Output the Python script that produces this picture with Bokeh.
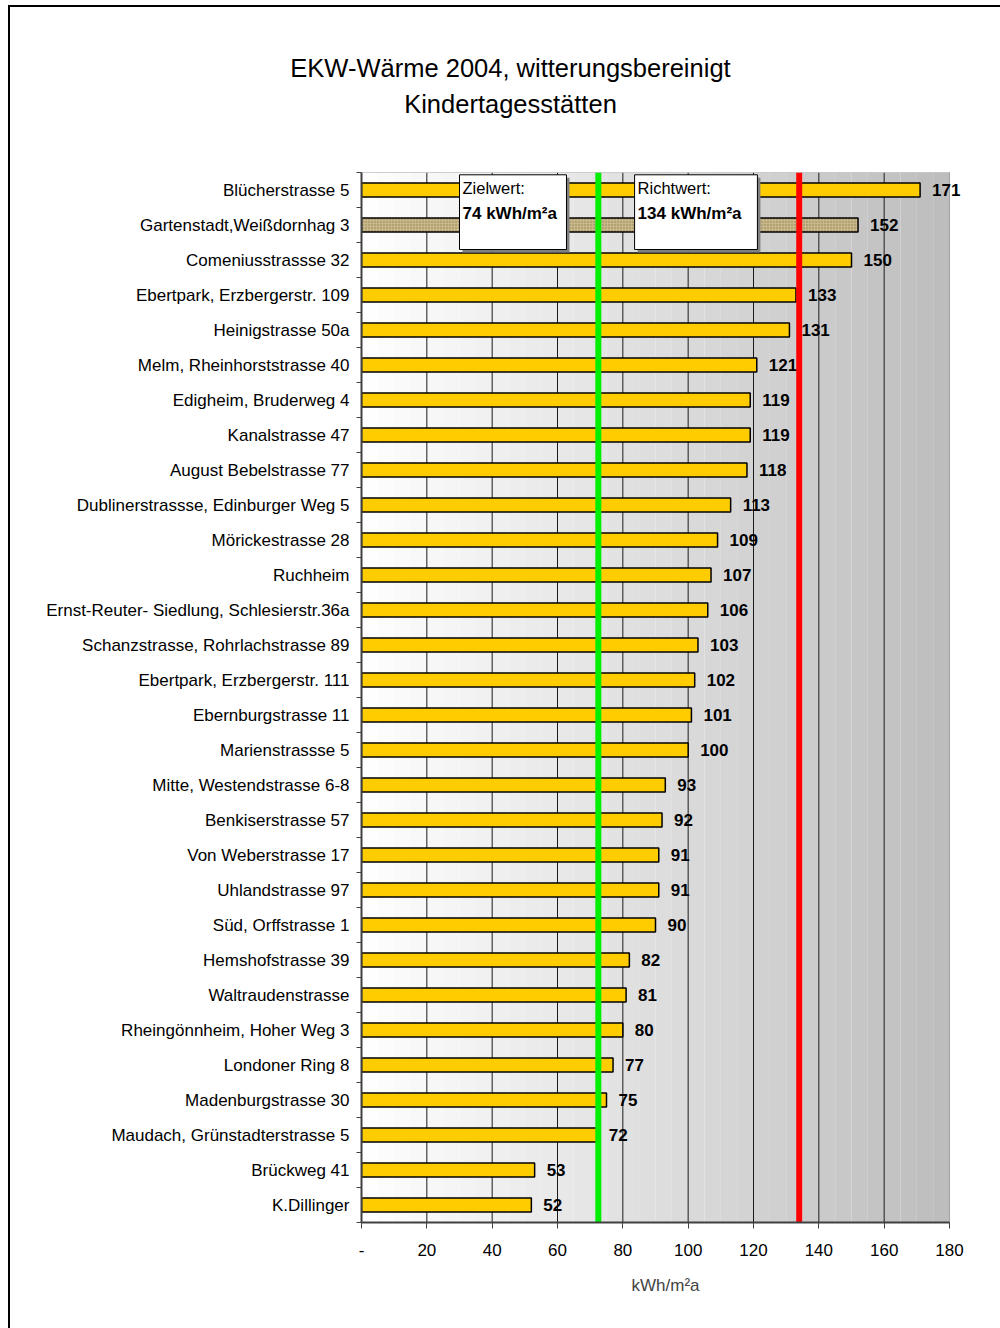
import numpy as np
from bokeh.plotting import figure
from bokeh.layouts import column
from bokeh.models import Range1d, FixedTicker
from bokeh.embed import file_html
from bokeh.resources import INLINE
from bokeh.core.properties import value

# ---------------- data ----------------
categories = [
    "Blücherstrasse 5",
    "Gartenstadt,Weißdornhag 3",
    "Comeniusstrassse 32",
    "Ebertpark, Erzbergerstr. 109",
    "Heinigstrasse 50a",
    "Melm, Rheinhorststrasse 40",
    "Edigheim, Bruderweg 4",
    "Kanalstrasse 47",
    "August Bebelstrasse 77",
    "Dublinerstrassse, Edinburger Weg 5",
    "Mörickestrasse 28",
    "Ruchheim",
    "Ernst-Reuter- Siedlung, Schlesierstr.36a",
    "Schanzstrasse, Rohrlachstrasse 89",
    "Ebertpark, Erzbergerstr. 111",
    "Ebernburgstrasse 11",
    "Marienstrassse 5",
    "Mitte, Westendstrasse 6-8",
    "Benkiserstrasse 57",
    "Von Weberstrasse 17",
    "Uhlandstrasse 97",
    "Süd, Orffstrasse 1",
    "Hemshofstrasse 39",
    "Waltraudenstrasse",
    "Rheingönnheim, Hoher Weg 3",
    "Londoner Ring 8",
    "Madenburgstrasse 30",
    "Maudach, Grünstadterstrasse 5",
    "Brückweg 41",
    "K.Dillinger",
]
values = [171, 152, 150, 133, 131, 121, 119, 119, 118, 113,
          109, 107, 106, 103, 102, 101, 100, 93, 92, 91,
          91, 90, 82, 81, 80, 77, 75, 72, 53, 52]
hatched_categories = ["Gartenstadt,Weißdornhag 3"]

x_ticks = [0, 20, 40, 60, 80, 100, 120, 140, 160, 180]
x_tick_labels = ["-", "20", "40", "60", "80", "100", "120", "140", "160", "180"]
x_label = "kWh/m²a"

zielwert = 74
zielwert_line = 72.5
richtwert = 134
title_lines = ["EKW-Wärme 2004, witterungsbereinigt", "Kindertagesstätten"]
ziel_texts = ["Zielwert:", f"{zielwert} kWh/m²a"]
richt_texts = ["Richtwert:", f"{richtwert} kWh/m²a"]

# ---------------- geometry ----------------
FONT = "Liberation Sans"
n = len(categories)
ys = list(range(n))
XMAX = 180
PX_PER_UNIT = 588 / XMAX          # plot area 588 px wide
ROW_PX = 35.0                     # one category row
FRAME_W = 608                     # frame extends right to leave room for value labels
TOTAL_W = 990
TITLE_H = 165
MAIN_H = 1321 - TITLE_H
Y_BOTTOM = n - 0.5

# ---------------- title figure ----------------
t = figure(width=TOTAL_W, height=TITLE_H, output_backend="svg", toolbar_location=None,
           x_range=Range1d(0, TOTAL_W), y_range=Range1d(TITLE_H, 0),
           x_axis_type=None, y_axis_type=None,
           min_border=0, min_border_left=0, min_border_right=0,
           min_border_top=0, min_border_bottom=0)
t.frame_align = False
t.outline_line_color = None
t.xgrid.visible = False
t.ygrid.visible = False
t.text(x=500, y=[60, 96], text=title_lines, text_align="center", text_baseline="middle",
       text_font=value(FONT), text_font_size="25.5px", text_color="black")

# ---------------- main figure ----------------
p = figure(width=TOTAL_W, height=MAIN_H, output_backend="svg", toolbar_location=None,
           x_range=Range1d(0, FRAME_W / PX_PER_UNIT), y_range=Range1d(Y_BOTTOM, -0.5),
           min_border_left=351, min_border_right=TOTAL_W - 351 - FRAME_W,
           min_border_top=0, min_border_bottom=MAIN_H - int(n * ROW_PX))
p.frame_align = False
p.background_fill_color = "white"
p.border_fill_color = "white"
p.outline_line_color = None
p.xgrid.visible = False
p.ygrid.visible = False

# gradient background (white -> gray) over the plot area
edges = np.linspace(0, XMAX, 37)
mids = (edges[:-1] + edges[1:]) / 2
shades = [int(round(255 - (255 - 188) * (m / XMAX))) for m in mids]
grad_colors = ["#%02x%02x%02x" % (s, s, s) for s in shades]
p.quad(left=edges[:-1], right=edges[1:], bottom=Y_BOTTOM, top=-0.5,
       fill_color=grad_colors, line_color=None, level="image")

# vertical grid lines
p.segment(x0=x_ticks[1:], y0=-0.5, x1=x_ticks[1:], y1=Y_BOTTOM,
          line_color="#1a1a1a", line_width=1, level="underlay")
# plot-area outline
p.quad(left=0, right=XMAX, top=-0.5, bottom=Y_BOTTOM, fill_color=None,
       line_color="#A0A0A0", line_width=1, level="underlay")

# bars
fill_colors = ["#C9B98A" if c in hatched_categories else "#FFCC00" for c in categories]
hatch_patterns = ["." if c in hatched_categories else " " for c in categories]
p.hbar(y=ys, left=0, right=values, height=0.4, fill_color=fill_colors,
       line_color="black", line_width=1.5, hatch_pattern=hatch_patterns,
       hatch_color="#8C7D55", hatch_scale=3, hatch_weight=1)

# value labels
p.text(x=values, y=ys, text=[str(v) for v in values], x_offset=12,
       text_baseline="middle", text_align="left", text_font=value(FONT),
       text_font_style="bold", text_font_size="17px", text_color="black")

# reference lines (slightly past the axis, like the original)
line_end = Y_BOTTOM + 4 / ROW_PX
p.segment(x0=[zielwert_line], y0=-0.5, x1=[zielwert_line], y1=line_end,
          line_color="#00EE00", line_width=6)
p.segment(x0=[richtwert], y0=-0.5, x1=[richtwert], y1=line_end,
          line_color="#FF0000", line_width=6)

# annotation boxes (with shadow)
box_top, box_bottom = -0.434, 1.70
boxes = [(30.0, 62.75, ziel_texts), (83.6, 121.2, richt_texts)]
sx_off = 3 / PX_PER_UNIT
sy_off = 3 / ROW_PX
p.quad(left=[b[0] + sx_off for b in boxes], right=[b[1] + sx_off for b in boxes],
       top=box_top + sy_off, bottom=box_bottom + sy_off,
       fill_color="#808080", line_color=None)
p.quad(left=[b[0] for b in boxes], right=[b[1] for b in boxes],
       top=box_top, bottom=box_bottom,
       fill_color="white", line_color="black", line_width=1)
p.text(x=[b[0] for b in boxes], y=box_top, text=[b[2][0] for b in boxes],
       x_offset=3, y_offset=13, text_baseline="middle", text_font=value(FONT),
       text_font_size="16.5px", text_color="black")
p.text(x=[b[0] for b in boxes], y=box_top, text=[b[2][1] for b in boxes],
       x_offset=3, y_offset=39, text_baseline="middle", text_font=value(FONT),
       text_font_style="bold", text_font_size="17px", text_color="black")

# y axis
yax = p.yaxis[0]
yax.bounds = (-0.5, Y_BOTTOM)
yax.ticker = FixedTicker(ticks=ys, minor_ticks=[i - 0.5 for i in range(n + 1)])
yax.major_label_overrides = {i: c for i, c in enumerate(categories)}
yax.major_tick_out = 0
yax.major_tick_in = 0
yax.minor_tick_out = 5
yax.minor_tick_in = 0
yax.minor_tick_line_color = "#404040"
yax.axis_line_color = "#404040"
yax.axis_line_width = 2
yax.major_label_standoff = 7
yax.major_label_text_font = FONT
yax.major_label_text_font_size = "17px"
yax.major_label_text_color = "black"

# x axis
xax = p.xaxis[0]
xax.bounds = (0, XMAX)
xax.ticker = FixedTicker(ticks=x_ticks)
xax.major_label_overrides = {tk: lb for tk, lb in zip(x_ticks, x_tick_labels)}
xax.minor_tick_line_color = None
xax.major_tick_out = 6
xax.major_tick_in = 0
xax.major_tick_line_color = "#404040"
xax.axis_line_color = "#404040"
xax.axis_line_width = 2
xax.major_label_standoff = 15
xax.major_label_text_font = FONT
xax.major_label_text_font_size = "17px"
xax.major_label_text_color = "black"
xax.axis_label = x_label
xax.axis_label_text_font = FONT
xax.axis_label_text_font_size = "17px"
xax.axis_label_text_font_style = "normal"
xax.axis_label_standoff = 17

layout = column(t, p, spacing=0)
layout.styles = {"border-left": "2px solid black", "border-top": "2px solid black",
                 "margin-left": "8px", "margin-top": "5px"}

open("out.html", "w").write(file_html(layout, INLINE))
